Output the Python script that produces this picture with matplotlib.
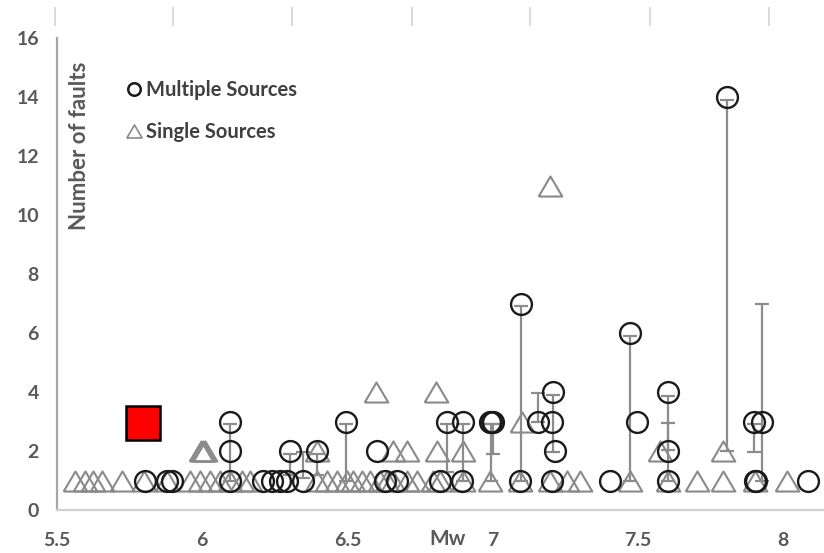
import matplotlib.pyplot as plt
from matplotlib.lines import Line2D

# magnitudes (Mw) and fault counts for single-source events
single_mw = [5.562, 5.596, 5.624, 5.655, 5.724, 5.80, 5.879, 5.958, 5.992, 6.027,
             6.061, 6.095, 6.137, 6.164, 6.395, 6.429, 6.464, 6.498, 6.519, 6.55,
             6.577, 6.611, 6.635, 6.656, 6.704, 6.739, 6.794, 6.818, 6.897, 6.99,
             7.093, 7.197, 7.255, 7.30, 7.472, 7.603, 7.702, 7.792, 7.902, 8.012,
             5.996, 6.002, 6.008, 6.395, 6.656, 6.704, 6.808, 6.897, 7.575, 7.792,
             7.10, 6.598, 6.804, 7.197]
single_n = [1] * 40 + [2, 2, 2, 2, 2, 2, 2, 2, 2, 2, 3, 4, 4, 11]

# magnitudes and fault counts for multiple-source events
multi_mw = [5.803, 5.879, 5.896, 6.095, 6.209, 6.24, 6.267, 6.291, 6.347, 6.628,
            6.67, 6.818, 6.894, 7.093, 7.203, 7.403, 7.603, 7.902, 7.905, 8.084,
            6.095, 6.302, 6.395, 6.601, 7.214, 7.603,
            6.095, 6.494, 6.842, 6.897, 6.99, 6.995, 7.0, 7.155, 7.203, 7.496,
            7.899, 7.926,
            7.207, 7.603, 7.472, 7.097, 7.806]
multi_n = [1] * 20 + [2] * 6 + [3] * 12 + [4, 4, 6, 7, 14]

# range of fault counts (low, high) around the multiple-source events
range_mw = [6.095, 6.302, 6.347, 6.395, 6.494, 6.842, 6.897, 6.993, 7.0, 7.097,
            7.155, 7.207, 7.472, 7.603, 7.603, 7.806, 7.90, 7.926]
range_lo = [1.0, 1.2, 1.1, 1.2, 1.0, 1.3, 1.0, 1.0, 1.9, 1.0,
            3.0, 1.95, 1.0, 1.0, 2.05, 2.0, 1.95, 1.0]
range_hi = [2.9, 1.9, 1.95, 1.9, 2.9, 2.9, 2.9, 2.9, 2.9, 6.9,
            3.95, 3.9, 5.9, 2.95, 3.85, 13.9, 2.9, 7.0]

# highlighted event
mark_mw, mark_n = 5.796, 2.95

W, H = 824, 553
fig = plt.figure(figsize=(W / 100, H / 100), dpi=100)
ax = fig.add_axes([57 / W, 1 - 510 / H, (W - 57) / W, (510 - 38) / H])

font = dict(family='Lato', weight='bold')
txt = '#595959'

tri = [(-1, -0.85), (0, 0.85), (1, -0.85), (-1, -0.85)]
ax.plot(single_mw, single_n, linestyle='none', marker=tri, markersize=17,
        markerfacecolor='none', markeredgecolor='#8a8a8a', markeredgewidth=1.5, zorder=2)

ax.vlines(range_mw, range_lo, range_hi, color='#8c8c8c', linewidth=1.6, zorder=3)
ax.plot(range_mw + range_mw, range_lo + range_hi, linestyle='none', marker='_',
        markersize=10, markeredgecolor='#8c8c8c', markeredgewidth=1.6, zorder=3)

ax.plot(multi_mw, multi_n, linestyle='none', marker='o', markersize=15,
        markerfacecolor='none', markeredgecolor='#1a1a1a', markeredgewidth=1.7, zorder=4)

ax.plot([mark_mw], [mark_n], marker='s', markersize=24, markerfacecolor='red',
        markeredgecolor='black', markeredgewidth=1.8, zorder=5)

ax.set_xlim(5.5, 8.14)
ax.set_ylim(0, 16)
ax.set_xticks([5.5, 6, 6.5, 7, 7.5, 8])
ax.set_xticklabels(['5.5', '6', '6.5', '7', '7.5', '8'])
ax.set_yticks(range(0, 17, 2))
ax.tick_params(length=0, labelcolor=txt, labelsize=14)
ax.tick_params(axis='y', pad=13)
ax.tick_params(axis='x', pad=16)
for lab in ax.get_xticklabels() + ax.get_yticklabels():
    lab.set_fontfamily('Lato')
    lab.set_fontweight('bold')

for s in ['top', 'right']:
    ax.spines[s].set_visible(False)
ax.spines['left'].set_color('#a6a6a6')
ax.spines['left'].set_linewidth(1.6)
ax.spines['bottom'].set_color('#d0d0d0')
ax.spines['bottom'].set_linewidth(1.6)

# legend
handles = [Line2D([], [], linestyle='none', marker='o', markersize=9,
                  markerfacecolor='none', markeredgecolor='#1a1a1a', markeredgewidth=1.8),
           Line2D([], [], linestyle='none', marker=tri, markersize=11,
                  markerfacecolor='none', markeredgecolor='#8a8a8a', markeredgewidth=1.2)]
leg = ax.legend(handles, ['Multiple Sources', 'Single Sources'], loc='upper left',
                bbox_to_anchor=(110 / W, 1 - 62 / H), bbox_transform=fig.transFigure,
                frameon=False, handlelength=0.6, handletextpad=0.3, labelspacing=1.1,
                prop=dict(family='Lato', weight='bold', size=14.5))
for t in leg.get_texts():
    t.set_color('#404040')

fig.text(80 / W, 1 - 146 / H, 'Number of faults', rotation=90, ha='center', va='center',
         color=txt, fontsize=16, **font)
fig.text(448 / W, 1 - 539 / H, 'Mw', ha='center', va='center', color=txt, fontsize=15, **font)

# faint tick marks along the top edge
for px in [55, 173, 292, 412, 530, 650, 769]:
    fig.add_artist(Line2D([px / W, px / W], [1 - 8 / H, 1 - 25 / H],
                          color='#dcdcdc', linewidth=1.5))

fig.savefig('out.png', dpi=100)
